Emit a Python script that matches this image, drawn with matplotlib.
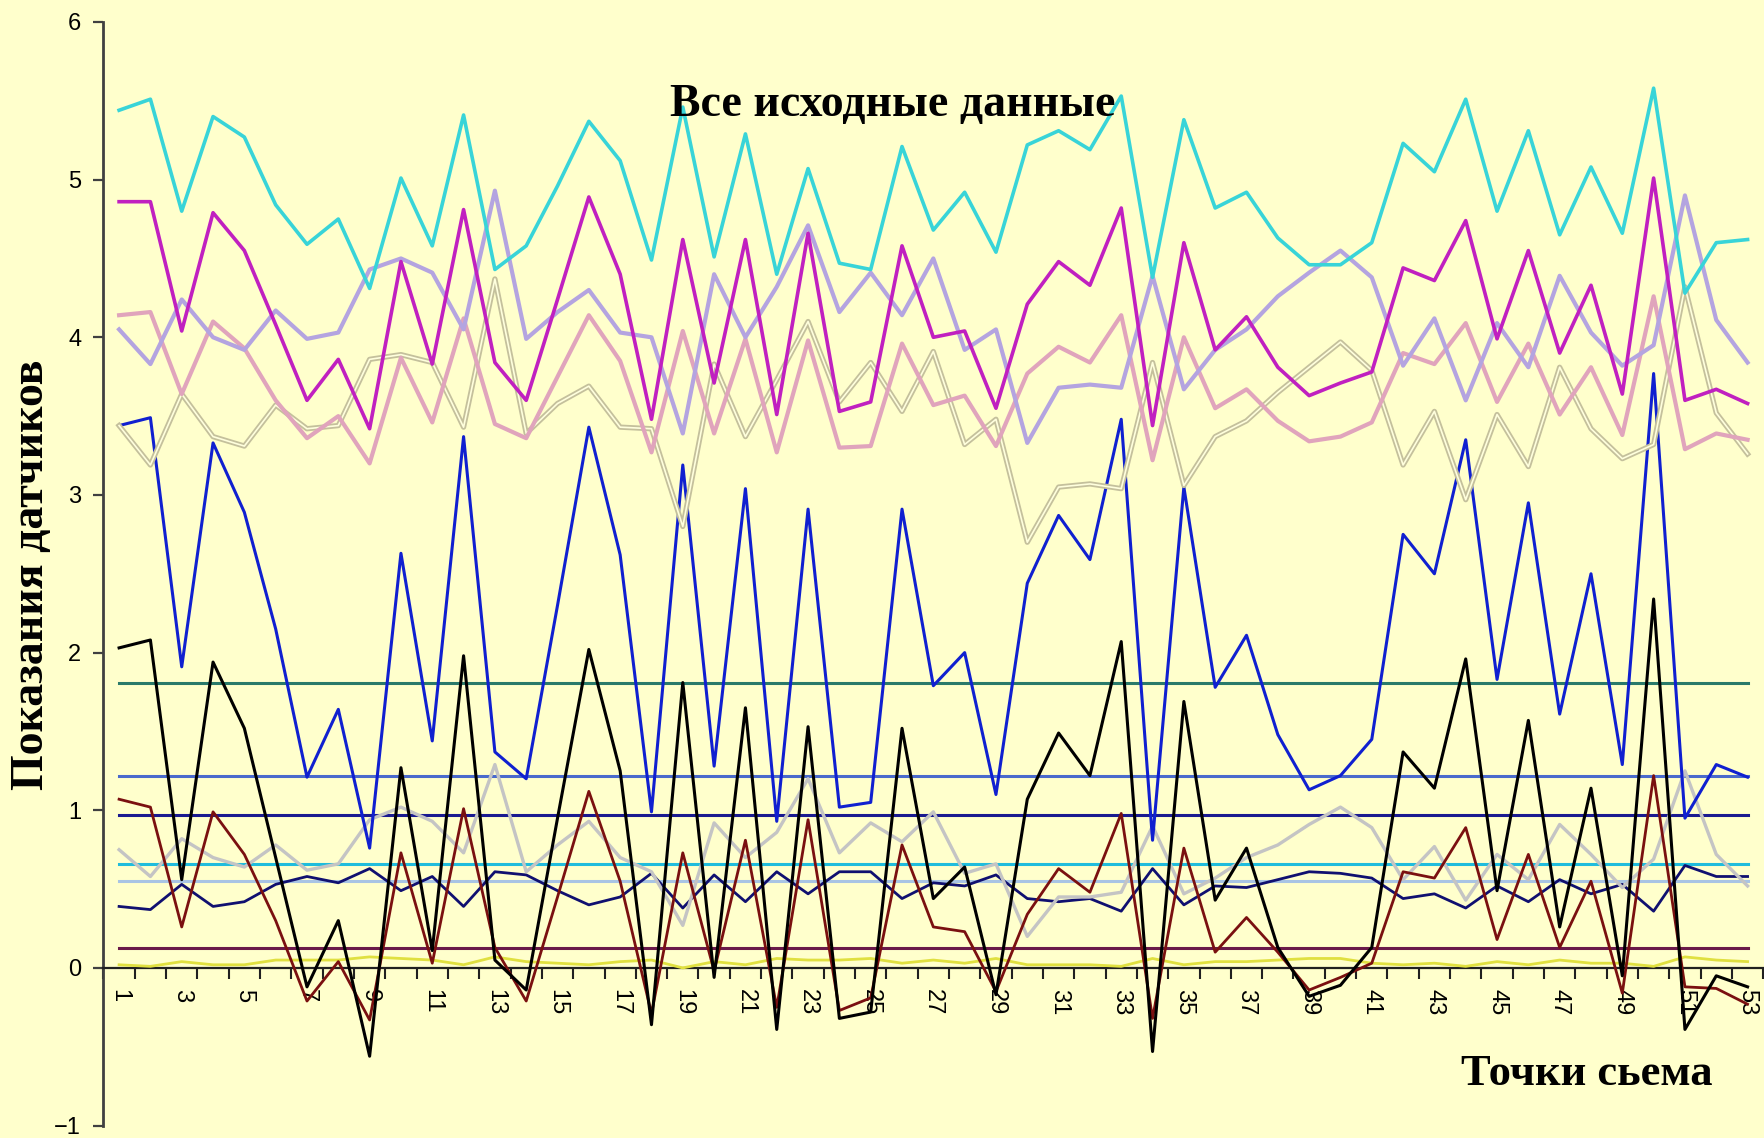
import matplotlib
matplotlib.use('Agg')
import matplotlib.pyplot as plt
import matplotlib.patheffects as pe
from matplotlib.ticker import FixedLocator, NullFormatter

points = list(range(1, 54))

cyan = [5.44, 5.51, 4.80, 5.40, 5.27, 4.84, 4.59, 4.75, 4.31, 5.01,
        4.58, 5.41, 4.43, 4.58, 4.96, 5.37, 5.12, 4.49, 5.46, 4.51,
        5.29, 4.40, 5.07, 4.47, 4.43, 5.21, 4.68, 4.92, 4.54, 5.22,
        5.31, 5.19, 5.53, 4.38, 5.38, 4.82, 4.92, 4.63, 4.46, 4.46,
        4.60, 5.23, 5.05, 5.51, 4.80, 5.31, 4.65, 5.08, 4.66, 5.58,
        4.28, 4.60, 4.62]
magenta = [4.86, 4.86, 4.04, 4.79, 4.55, 4.08, 3.60, 3.86, 3.42, 4.48,
           3.83, 4.81, 3.84, 3.60, 4.24, 4.89, 4.40, 3.48, 4.62, 3.71,
           4.62, 3.51, 4.66, 3.53, 3.59, 4.58, 4.00, 4.04, 3.55, 4.21,
           4.48, 4.33, 4.82, 3.44, 4.60, 3.92, 4.13, 3.81, 3.63, 3.71,
           3.78, 4.44, 4.36, 4.74, 3.99, 4.55, 3.90, 4.33, 3.64, 5.01,
           3.60, 3.67, 3.58]
lavender = [4.05, 3.83, 4.24, 4.00, 3.92, 4.17, 3.99, 4.03, 4.43, 4.50,
            4.41, 4.05, 4.93, 3.99, 4.16, 4.30, 4.03, 4.00, 3.39, 4.40,
            4.00, 4.32, 4.71, 4.16, 4.41, 4.14, 4.50, 3.92, 4.05, 3.33,
            3.68, 3.70, 3.68, 4.39, 3.67, 3.92, 4.05, 4.26, 4.41, 4.55,
            4.38, 3.82, 4.12, 3.60, 4.09, 3.81, 4.39, 4.03, 3.82, 3.95,
            4.90, 4.11, 3.84]
pink = [4.14, 4.16, 3.64, 4.10, 3.93, 3.60, 3.36, 3.50, 3.20, 3.87,
        3.46, 4.12, 3.45, 3.36, 3.75, 4.14, 3.85, 3.27, 4.04, 3.39,
        3.99, 3.27, 3.98, 3.30, 3.31, 3.96, 3.57, 3.63, 3.31, 3.77,
        3.94, 3.84, 4.14, 3.22, 4.00, 3.55, 3.67, 3.47, 3.34, 3.37,
        3.46, 3.90, 3.83, 4.09, 3.59, 3.96, 3.51, 3.81, 3.38, 4.26,
        3.29, 3.39, 3.35]
beige = [3.44, 3.19, 3.64, 3.37, 3.31, 3.57, 3.42, 3.44, 3.86, 3.89,
         3.84, 3.43, 4.37, 3.39, 3.58, 3.69, 3.43, 3.42, 2.80, 3.83,
         3.37, 3.73, 4.10, 3.59, 3.84, 3.53, 3.91, 3.32, 3.48, 2.70,
         3.05, 3.07, 3.04, 3.84, 3.06, 3.37, 3.47, 3.65, 3.81, 3.97,
         3.79, 3.19, 3.53, 2.97, 3.51, 3.18, 3.81, 3.42, 3.23, 3.32,
         4.32, 3.52, 3.26]
blue = [3.44, 3.49, 1.91, 3.33, 2.89, 2.15, 1.21, 1.64, 0.76, 2.63,
        1.44, 3.37, 1.37, 1.20, 2.30, 3.43, 2.62, 0.99, 3.19, 1.28,
        3.04, 0.93, 2.91, 1.02, 1.05, 2.91, 1.79, 2.00, 1.10, 2.44,
        2.87, 2.59, 3.48, 0.81, 3.05, 1.78, 2.11, 1.48, 1.13, 1.22,
        1.45, 2.75, 2.50, 3.35, 1.83, 2.95, 1.61, 2.50, 1.29, 3.77,
        0.95, 1.29, 1.21]
black = [2.03, 2.08, 0.56, 1.94, 1.52, 0.70, -0.12, 0.30, -0.56, 1.27,
         0.11, 1.98, 0.05, -0.14, 0.95, 2.02, 1.25, -0.36, 1.81, -0.06,
         1.65, -0.39, 1.53, -0.32, -0.28, 1.52, 0.44, 0.64, -0.17, 1.07,
         1.49, 1.22, 2.07, -0.53, 1.69, 0.43, 0.76, 0.13, -0.18, -0.11,
         0.13, 1.37, 1.14, 1.96, 0.49, 1.57, 0.26, 1.14, -0.05, 2.34,
         -0.39, -0.05, -0.12]
maroon = [1.07, 1.02, 0.26, 0.99, 0.72, 0.30, -0.21, 0.04, -0.33, 0.73,
          0.03, 1.01, 0.13, -0.21, 0.45, 1.12, 0.55, -0.29, 0.73, -0.02,
          0.81, -0.25, 0.94, -0.27, -0.19, 0.78, 0.26, 0.23, -0.15, 0.34,
          0.63, 0.48, 0.98, -0.32, 0.76, 0.10, 0.32, 0.10, -0.14, -0.06,
          0.03, 0.61, 0.57, 0.89, 0.18, 0.72, 0.13, 0.55, -0.16, 1.22,
          -0.12, -0.13, -0.23]
gray = [0.75, 0.58, 0.82, 0.70, 0.64, 0.78, 0.62, 0.66, 0.94, 1.02,
        0.93, 0.73, 1.29, 0.61, 0.78, 0.93, 0.70, 0.61, 0.27, 0.92,
        0.70, 0.86, 1.20, 0.73, 0.92, 0.80, 0.99, 0.60, 0.66, 0.20,
        0.45, 0.45, 0.48, 0.90, 0.47, 0.57, 0.70, 0.78, 0.91, 1.02,
        0.89, 0.56, 0.77, 0.43, 0.72, 0.56, 0.91, 0.72, 0.51, 0.69,
        1.25, 0.72, 0.52]
navy = [0.39, 0.37, 0.53, 0.39, 0.42, 0.53, 0.58, 0.54, 0.63, 0.49,
        0.58, 0.39, 0.61, 0.59, 0.49, 0.40, 0.45, 0.60, 0.38, 0.59,
        0.42, 0.61, 0.47, 0.61, 0.61, 0.44, 0.54, 0.52, 0.59, 0.44,
        0.42, 0.44, 0.36, 0.63, 0.40, 0.52, 0.51, 0.56, 0.61, 0.60,
        0.57, 0.44, 0.47, 0.38, 0.52, 0.42, 0.56, 0.47, 0.53, 0.36,
        0.65, 0.58, 0.58]
yellow = [0.02, 0.01, 0.04, 0.02, 0.02, 0.05, 0.05, 0.05, 0.07, 0.06,
          0.05, 0.02, 0.07, 0.04, 0.03, 0.02, 0.04, 0.05, 0.00, 0.04,
          0.02, 0.06, 0.05, 0.05, 0.06, 0.03, 0.05, 0.03, 0.06, 0.02,
          0.02, 0.02, 0.01, 0.06, 0.02, 0.04, 0.04, 0.05, 0.06, 0.06,
          0.03, 0.02, 0.03, 0.01, 0.04, 0.02, 0.05, 0.03, 0.03, 0.01,
          0.07, 0.05, 0.04]

# constant sensor levels (flat lines)
levels = [1.81, 1.22, 0.97, 0.66, 0.55, 0.125]
level_colors = ['#2A7A6A', '#4A6ACC', '#1A1A90', '#20BCDC', '#A8C4E4', '#6A1A4A']

bg = '#FFFFCC'
fig = plt.figure(figsize=(17.65, 11.38), dpi=100, facecolor=bg)
ax = fig.add_axes([0.0586, 0.0109, 0.9404, 0.9698], facecolor=bg)

for v, c in zip(levels, level_colors):
    ax.plot(points, [v] * len(points), color=c, lw=2.2, zorder=2)

ax.plot(points, yellow, color='#E0E040', lw=2, zorder=3)
ax.plot(points, navy, color='#101070', lw=2, zorder=3)
ax.plot(points, gray, color='#C4C4C4', lw=2.4, zorder=3)
ax.plot(points, maroon, color='#7A1010', lw=2, zorder=3)
ax.plot(points, black, color='#000000', lw=2.2, zorder=3)
ax.plot(points, blue, color='#1020D0', lw=2.2, zorder=3)
ax.plot(points, beige, color='#FFFFDD', lw=1.2, zorder=3,
        path_effects=[pe.Stroke(linewidth=3.8, foreground='#C4C09C'), pe.Normal()])
ax.plot(points, pink, color='#E0A4BC', lw=3, zorder=3)
ax.plot(points, lavender, color='#B4A4E0', lw=3, zorder=3)
ax.plot(points, magenta, color='#C020C0', lw=2.6, zorder=3)
ax.plot(points, cyan, color='#38D4D8', lw=2.6, zorder=3)

ax.set_xlim(0.5, 53.5)
ax.set_ylim(-1, 6)

for s in ['top', 'right']:
    ax.spines[s].set_visible(False)
ax.spines['left'].set_color('#404040')
ax.spines['left'].set_linewidth(2)
ax.spines['bottom'].set_position(('data', 0))
ax.spines['bottom'].set_color('#202020')
ax.spines['bottom'].set_linewidth(1.6)

ax.set_yticks(range(-1, 7))
ax.tick_params(axis='y', direction='out', length=7, width=1.6, color='#404040',
               labelsize=17, pad=9)

ax.xaxis.set_major_locator(FixedLocator([i + 0.5 for i in range(0, 54)]))
ax.xaxis.set_major_formatter(NullFormatter())
ax.set_xticks(points[::2], minor=True)
ax.set_xticklabels([str(p) for p in points[::2]], minor=True, rotation=-90)
ax.tick_params(axis='x', which='major', direction='out', length=8, width=1.5,
               color='#202020')
ax.tick_params(axis='x', which='minor', length=0, labelsize=17, pad=15)

for lab in ax.get_yticklabels() + ax.get_xticklabels(minor=True):
    lab.set_fontfamily('Liberation Sans')

fig.text(0.506, 0.908, 'Все исходные данные', fontsize=33, fontweight='bold',
         family='Liberation Serif', ha='center', va='center')
fig.text(0.018, 0.495, 'Показания датчиков', fontsize=33, fontweight='bold',
         family='Liberation Serif', ha='center', va='center', rotation=90)
fig.text(0.899, 0.056, 'Точки сьема', fontsize=32, fontweight='bold',
         family='Liberation Serif', ha='center', va='center')

fig.savefig('out.png', dpi=100, facecolor=bg)
